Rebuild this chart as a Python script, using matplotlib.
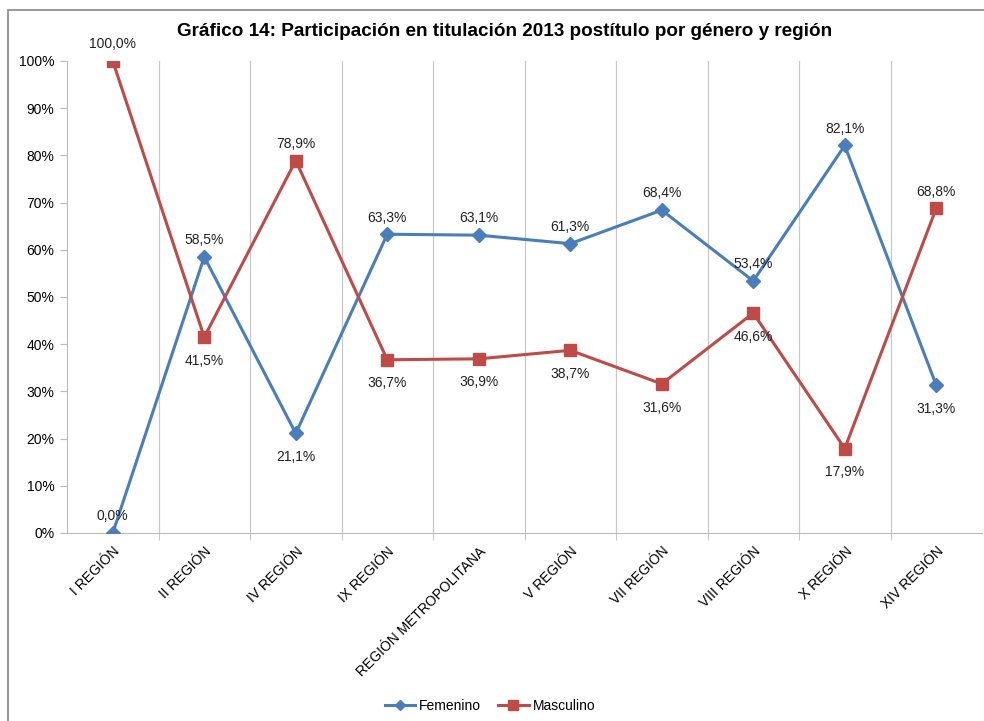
import matplotlib
matplotlib.use("Agg")
import matplotlib.pyplot as plt
from matplotlib.ticker import FuncFormatter, MultipleLocator
from matplotlib.patches import Rectangle

regiones = ["I REGIÓN", "II REGIÓN", "IV REGIÓN", "IX REGIÓN", "REGIÓN METROPOLITANA",
            "V REGIÓN", "VII REGIÓN", "VIII REGIÓN", "X REGIÓN", "XIV REGIÓN"]
femenino = [0.0, 58.5, 21.1, 63.3, 63.1, 61.3, 68.4, 53.4, 82.1, 31.3]
masculino = [100.0, 41.5, 78.9, 36.7, 36.9, 38.7, 31.6, 46.6, 17.9, 68.8]

plt.rcParams['font.family'] = ['Liberation Sans', 'DejaVu Sans']

fig = plt.figure(figsize=(9.84, 7.21), dpi=100)
# chart area border
fig.patches.append(Rectangle((8/984, -0.01), 1.0, (721-10)/721 + 0.01, transform=fig.transFigure,
                             fill=False, edgecolor='#888888', linewidth=1.2))
ax = fig.add_axes([67/984, 188/721, (982-67)/984, (660-188)/721])

x = list(range(len(regiones)))
blue = '#4A7EBB'
red = '#BE4B48'
ax.plot(x, femenino, color=blue, lw=2.2, marker='D', ms=7, label='Femenino', zorder=3)
ax.plot(x, masculino, color=red, lw=2.2, marker='s', ms=8.5, label='Masculino', zorder=3)

def fmt(v):
    return f"{v:.1f}".replace('.', ',') + '%'

for i, (f, m) in enumerate(zip(femenino, masculino)):
    f_above = f >= m or i == 0
    m_above = m > f
    ax.annotate(fmt(f), (i, f), xytext=(0, 7 if f_above else -12), textcoords='offset points',
                ha='center', va='bottom' if f_above else 'top', fontsize=10, color='#222222')
    ax.annotate(fmt(m), (i, m), xytext=(0, 7 if m_above else -12), textcoords='offset points',
                ha='center', va='bottom' if m_above else 'top', fontsize=10, color='#222222')

ax.set_xlim(-0.5, len(regiones) - 0.5)
ax.set_ylim(0, 100)
ax.yaxis.set_major_locator(MultipleLocator(10))
ax.yaxis.set_major_formatter(FuncFormatter(lambda v, p: f"{int(round(v))}%"))
ax.set_xticks(x)
ax.set_xticklabels(regiones, rotation=45, ha='right', rotation_mode='anchor', fontsize=10)
ax.set_xticks([i + 0.5 for i in range(len(regiones) - 1)], minor=True)
ax.tick_params(axis='x', which='major', length=0, pad=8)
ax.tick_params(axis='x', which='minor', length=5, color='#BBBBBB')
ax.tick_params(axis='y', length=5, color='#BBBBBB', labelsize=10, pad=4)
ax.grid(axis='x', which='minor', color='#C8C8C8', lw=0.9)
ax.set_axisbelow(True)
for s in ['top', 'right']:
    ax.spines[s].set_visible(False)
for s in ['left', 'bottom']:
    ax.spines[s].set_color('#BBBBBB')

fig.text(505/984, 1 - 32/721, "Gráfico 14: Participación en titulación 2013 postítulo por género y región",
         ha='center', va='center', fontsize=13.6, fontweight='bold')

fig.legend(loc='center', bbox_to_anchor=(490/984, 1 - 706/721), ncol=2, frameon=False,
           fontsize=10, handlelength=2.2, columnspacing=1.2, handletextpad=0.3, markerscale=0.8)

fig.savefig('out.png', dpi=100)
